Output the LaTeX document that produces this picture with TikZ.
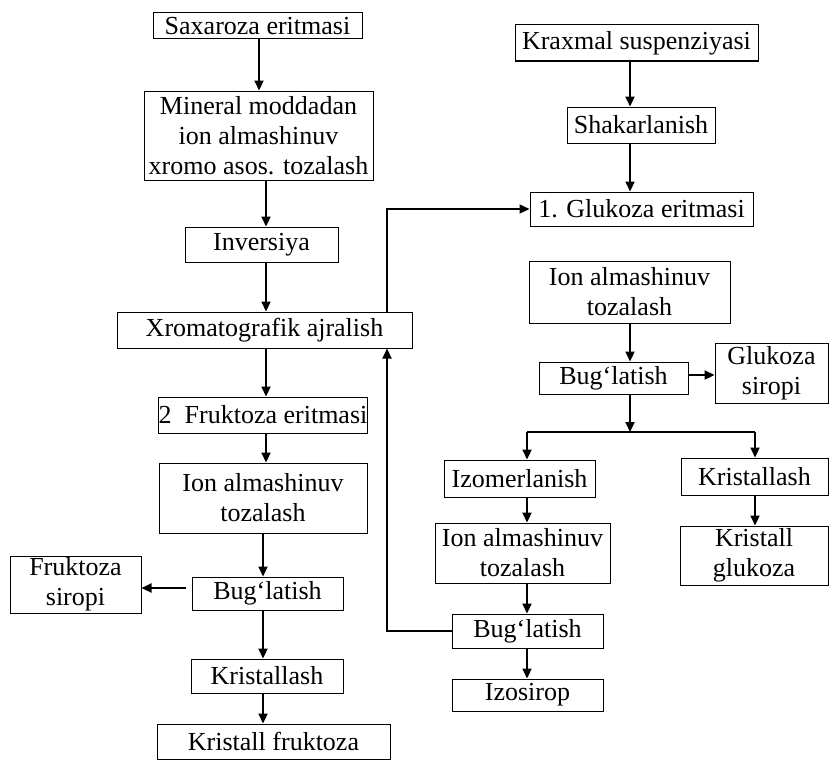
\documentclass[tikz,border=0pt]{standalone}
\usepackage{fontspec}
\setmainfont{Liberation Serif}
\usetikzlibrary{arrows.meta}
\begin{document}
\begin{tikzpicture}[x=1pt,y=-1pt,
  box/.style={draw, line width=1pt, inner sep=0pt, align=center,
    font=\fontsize{26}{30}\selectfont},
  arr/.style={line width=2.2pt, -{Triangle[length=10pt,width=9pt]}},
  ln/.style={line width=1.5pt}]
\useasboundingbox (0,0) rectangle (829,760);
% left column
\node[box, minimum width=209pt, minimum height=26pt] (sax) at (257.5,26) {Saxaroza eritmasi};
\node[box, minimum width=229pt, minimum height=89pt] (min) at (258.5,135.5) {Mineral moddadan\\ion almashinuv\\xromo asos. tozalash};
\node[box, minimum width=153pt, minimum height=35pt] (inv) at (261.5,244.5) {Inversiya};
\node[box, minimum width=295pt, minimum height=36pt] (xrom) at (264.5,330) {Xromatografik ajralish};
\node[box, minimum width=208pt, minimum height=36pt] (fru) at (263,415) {2\enspace Fruktoza eritmasi};
\node[box, minimum width=208pt, minimum height=70pt] (ion1) at (263,498) {Ion almashinuv\\tozalash};
\node[box, minimum width=151pt, minimum height=33pt] (bug1) at (267.5,593.5) {Bug‘latish};
\node[box, minimum width=131pt, minimum height=57pt] (fsir) at (75.5,584.5) {Fruktoza\\siropi};
\node[box, minimum width=152pt, minimum height=34pt] (kr1) at (267,676) {Kristallash};
\node[box, minimum width=233pt, minimum height=35pt] (kfru) at (273.5,741.5) {Kristall fruktoza};
% right column
\node[box, minimum width=243pt, minimum height=36pt] (krax) at (636.5,43) {Kraxmal suspenziyasi};
\node[box, minimum width=148pt, minimum height=36pt] (shak) at (641,125) {Shakarlanish};
\node[box, minimum width=223pt, minimum height=34pt] (glu1) at (641.5,209) {1. Glukoza eritmasi};
\node[box, minimum width=201pt, minimum height=62pt] (ion2) at (629.5,292) {Ion almashinuv\\tozalash};
\node[box, minimum width=149pt, minimum height=32pt] (bug2) at (613.5,378) {Bug‘latish};
\node[box, minimum width=113pt, minimum height=60pt] (gsir) at (771.5,373) {Glukoza\\siropi};
\node[box, minimum width=151pt, minimum height=37pt] (izo) at (519.5,478.5) {Izomerlanish};
\node[box, minimum width=147pt, minimum height=37pt] (kr2) at (754.5,476.5) {Kristallash};
\node[box, minimum width=175pt, minimum height=60pt] (ionb) at (522.5,553) {Ion almashinuv\\tozalash};
\node[box, minimum width=148pt, minimum height=59pt] (kglu) at (754,555.5) {Kristall\\glukoza};
\node[box, minimum width=151pt, minimum height=34pt] (bugb) at (527.5,631) {Bug‘latish};
\node[box, minimum width=151pt, minimum height=32pt] (izos) at (527.5,695) {Izosirop};
% column coordinates
\coordinate (cL) at (263,0);
\coordinate (cR) at (630,0);
\coordinate (cI) at (527,0);
\coordinate (cK) at (755,0);
\coordinate (fb) at (387,0);
\coordinate (jn) at (0,432);
% left connectors
\draw[arr] (sax.south -| 259,0) -- (min.north -| 259,0);
\draw[arr] (min.south -| 266,0) -- (inv.north -| 266,0);
\draw[arr] (inv.south -| 266,0) -- (xrom.north -| 266,0);
\draw[arr] (xrom.south -| 266,0) -- (fru.north -| 266,0);
\draw[arr] (fru.south -| 266,0) -- (ion1.north -| 266,0);
\draw[arr] (ion1.south -| cL) -- (bug1.north -| cL);
\draw[arr, shorten <=6pt] (bug1.west |- 0,588) -- (fsir.east |- 0,588);
\draw[arr] (bug1.south -| cL) -- (kr1.north -| cL);
\draw[arr] (kr1.south -| cL) -- (kfru.north -| cL);
% feedback and glucose line
\draw[arr] (bugb.west) -| (xrom.south -| fb);
\draw[ln, -{Triangle[length=10pt,width=9pt]}] (xrom.north -| fb) |- (glu1.west);
% right connectors
\draw[arr] (krax.south -| cR) -- (shak.north -| cR);
\draw[arr] (shak.south -| cR) -- (glu1.north -| cR);
\draw[arr] (ion2.south -| cR) -- (bug2.north -| cR);
\draw[arr] (bug2.east |- 0,375) -- (gsir.west |- 0,375);
\draw[arr] (bug2.south -| cR) -- (jn -| cR);
\draw[ln] (jn -| cI) -- (jn -| cK);
\draw[arr] (jn -| cI) -- (izo.north -| cI);
\draw[arr] (jn -| cK) -- (kr2.north -| cK);
\draw[arr] (izo.south -| cI) -- (ionb.north -| cI);
\draw[arr] (kr2.south -| cK) -- (kglu.north -| cK);
\draw[arr] (ionb.south -| cI) -- (bugb.north -| cI);
\draw[arr] (bugb.south -| cI) -- (izos.north -| cI);
\end{tikzpicture}
\end{document}
